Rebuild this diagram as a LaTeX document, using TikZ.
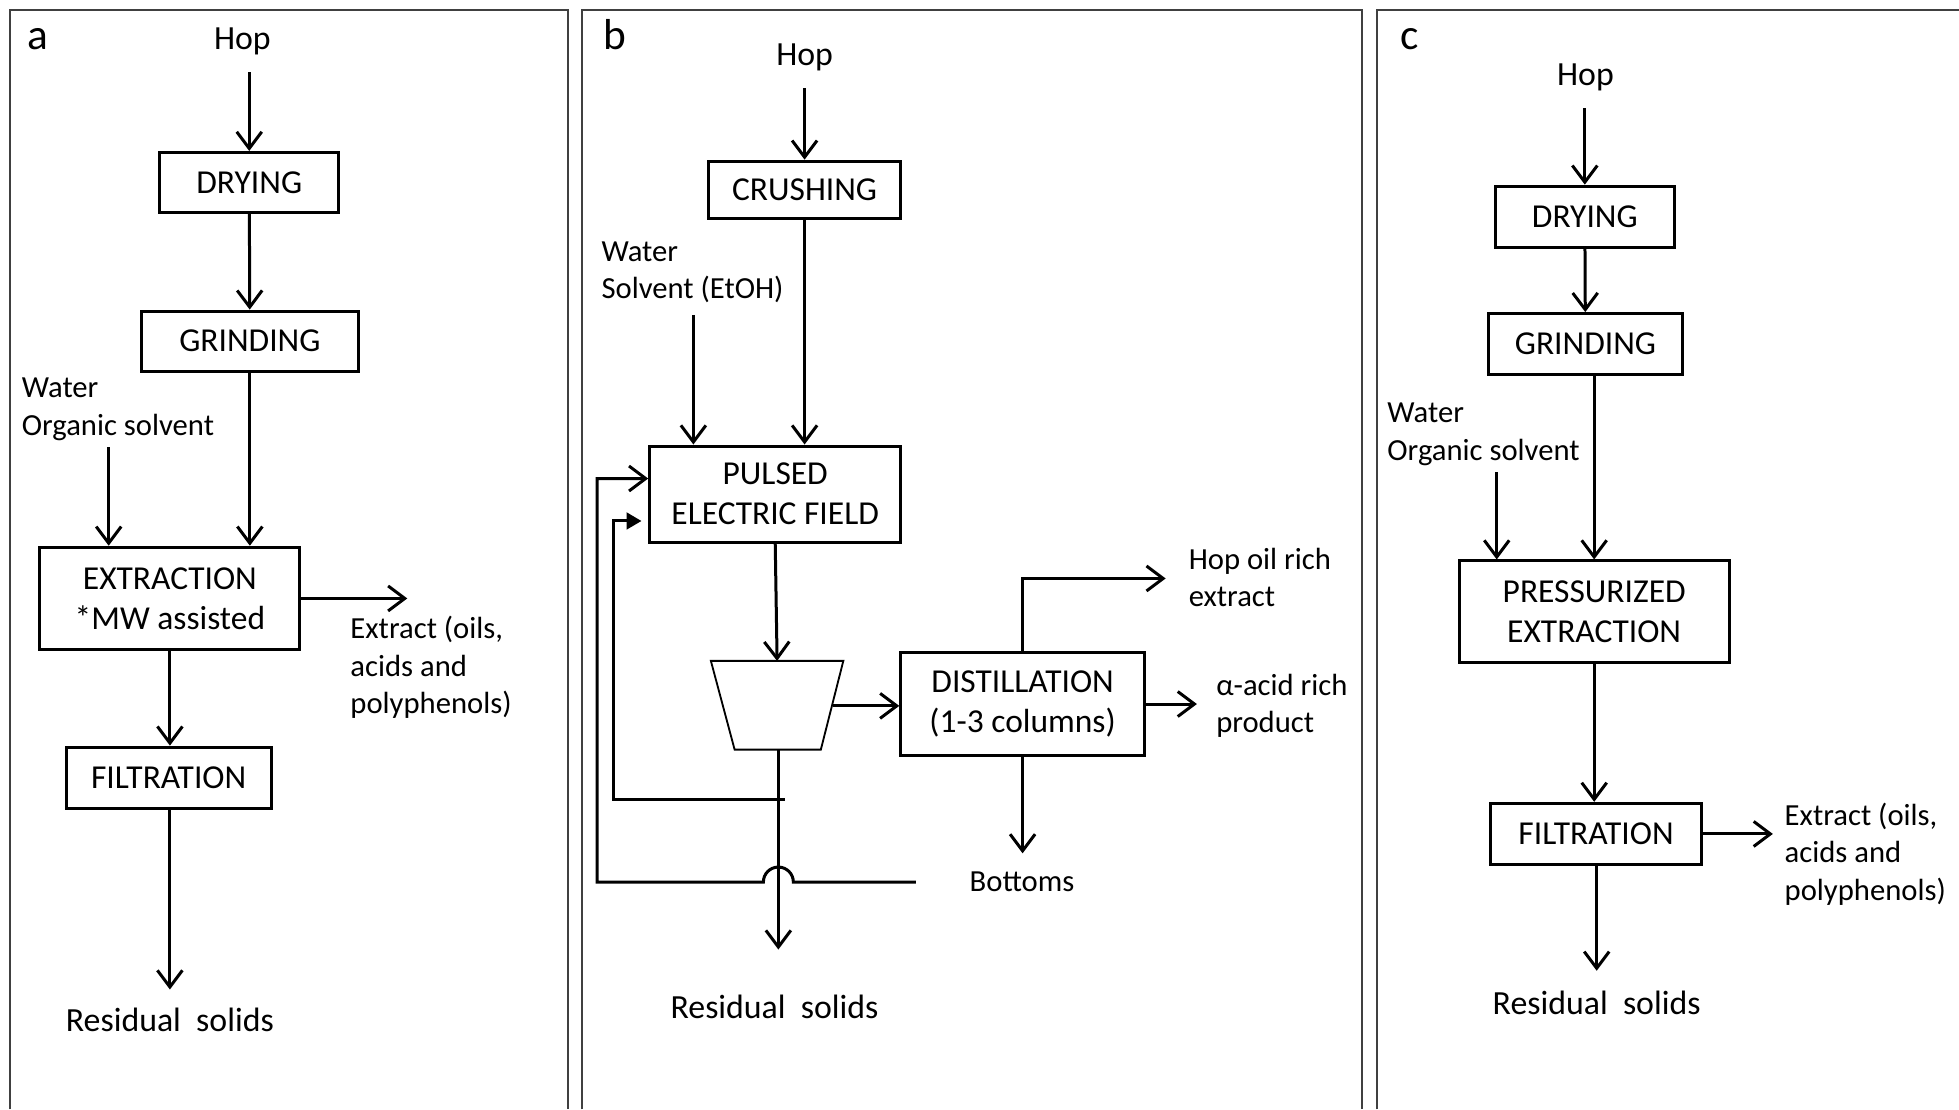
\documentclass[tikz,border=0pt]{standalone}
\usepackage{fontspec}
\setmainfont{Carlito}
\usetikzlibrary{arrows.meta}

\tikzset{every picture/.style={line width=0.75pt}}
\tikzset{
  stage/.style={draw, line width=1.8pt, inner sep=0pt, align=center, font=\fontsize{20.1}{24}\selectfont},
  lbl/.style={inner sep=0pt, align=left, font=\fontsize{18.4}{22.5}\selectfont},
  biglbl/.style={inner sep=0pt, font=\fontsize{20.3}{24}\selectfont},
  panel/.style={inner sep=0pt, anchor=base, font=\fontsize{26}{30}\selectfont},
  flow/.style={line width=1.8pt, -{Straight Barb[length=10pt,width=15pt]}},
  feedflow/.style={line width=1.8pt, -{Triangle[length=9pt,width=10pt]}},
  frame/.style={line width=1.2pt, draw=black!75}
}

\begin{document}
\begin{tikzpicture}[x=0.75pt,y=0.75pt,yscale=-1,xscale=1]
	\path[use as bounding box] (0,0) rectangle (1568,888);

	%Frames
	\draw[frame] (8,888) -- (8,8) -- (455,8) -- (455,888);
	\draw[frame] (466,888) -- (466,8) -- (1090,8) -- (1090,888);
	\draw[frame] (1102,888) -- (1102,8) -- (1568,8);

	%Panel a
	\node[panel] (laba) at (30,40) {a};
	\node[biglbl] (hopa) at (194,33) {Hop};
	\node[stage, minimum width=107.25pt, minimum height=36pt] (drya) at (199.5,146) {DRYING};
	\node[stage, minimum width=130.5pt, minimum height=36pt] (grina) at (200,273) {GRINDING};
	\node[lbl, anchor=north west] (wata) at (17,302) {Water\\Organic solvent};
	\node[stage, minimum width=156pt, minimum height=61.5pt] (exta) at (136,479) {EXTRACTION\\*MW assisted};
	\node[lbl, anchor=north west] (prda) at (280,493) {Extract (oils,\\acids and\\polyphenols)};
	\node[stage, minimum width=123pt, minimum height=36.75pt] (filta) at (135,622.5) {FILTRATION};
	\node[biglbl] (resa) at (136,816) {Residual\ \ solids};
	\coordinate (wsa) at (87,358);
	\coordinate (outa) at (326,479);
	\coordinate (enda) at (136,792);

	\draw[flow, shorten <=10pt] (drya.north |- hopa.south) -- (drya.north);
	\draw[flow] (drya) -- (grina);
	\draw[flow] (grina.south) -- (grina.south |- exta.north);
	\draw[flow] (wsa) -- (wsa |- exta.north);
	\draw[flow] (exta.east) -- (outa);
	\draw[flow] (exta.south) -- (exta.south |- filta.north);
	\draw[flow] (filta.south -| enda) -- (enda);

	%Panel b
	\node[panel] (labb) at (492,40) {b};
	\node[biglbl] (hopb) at (644,46) {Hop};
	\node[stage, minimum width=115.5pt, minimum height=34.5pt] (crub) at (644,152) {CRUSHING};
	\node[lbl, anchor=north west] (watb) at (481,193) {Water\\Solvent (EtOH)};
	\node[stage, minimum width=150.75pt, minimum height=57.75pt] (pefb) at (620.5,395.5) {PULSED\\ELECTRIC FIELD};
	\node[stage, minimum width=146.25pt, minimum height=62.25pt] (dstb) at (818.5,563.5) {DISTILLATION\\(1-3 columns)};
	\node[lbl, anchor=north west] (oiltx) at (951,438) {Hop oil rich\\extract};
	\node[lbl, anchor=north west] (acdtx) at (973,539) {α-acid rich\\product};
	\node[lbl] (botm) at (818,706) {Bottoms};
	\node[biglbl] (resb) at (620,806) {Residual\ \ solids};
	\coordinate (wsb) at (555,252);
	\coordinate (sept) at (622,529);
	\coordinate (sepb) at (623,600);
	\coordinate (sepr) at (666.5,565);
	\coordinate (oilb) at (933,463);
	\coordinate (acdb) at (958,565);
	\coordinate (botb) at (819,683);
	\coordinate (endb) at (623,760);
	\coordinate (rc1) at (628,640);
	\coordinate (rcx1) at (491,417);
	\coordinate (rc2) at (733,706);
	\coordinate (rcx2) at (478,383);

	%Separator
	\draw[line width=1.1pt] (569,529) -- (675,529) -- (657,600) -- (588,600) -- cycle;

	\draw[flow, shorten <=10pt] (crub.north |- hopb.south) -- (crub.north);
	\draw[flow] (crub.south) -- (crub.south |- pefb.north);
	\draw[flow] (wsb) -- (wsb |- pefb.north);
	\draw[flow] (pefb.south) -- (sept);
	\draw[flow] (sepr) -- (sepr -| dstb.west);
	\draw[flow] (dstb.north) |- (oilb);
	\draw[flow] (dstb.east) -- (dstb.east -| acdb);
	\draw[flow] (dstb.south) -- (dstb.south |- botb);
	\draw[flow] (sepb) -- (endb);
	%Recycle lines
	\draw[feedflow, shorten >=4pt] (rc1) -| (rcx1) -- (rcx1 -| pefb.west);
	\draw[flow] (rc2) -- (635,706) arc (0:-180:12) -- (rcx2 |- rc2) -- (rcx2) -- (rcx2 -| pefb.west);

	%Panel c
	\node[panel] (labc) at (1128,40) {c};
	\node[biglbl] (hopc) at (1269,62) {Hop};
	\node[stage, minimum width=107.25pt, minimum height=36.75pt] (dryc) at (1268.5,173.5) {DRYING};
	\node[stage, minimum width=117pt, minimum height=36.75pt] (grinc) at (1269,275.5) {GRINDING};
	\node[lbl, anchor=north west] (watc) at (1110,322) {Water\\Organic solvent};
	\node[stage, minimum width=162pt, minimum height=60.75pt] (extc) at (1276,489.5) {PRESSURIZED\\EXTRACTION};
	\node[stage, minimum width=126.75pt, minimum height=36.75pt] (filtc) at (1277.5,667.5) {FILTRATION};
	\node[lbl, anchor=north west] (prdc) at (1428,642) {Extract (oils,\\acids and\\polyphenols)};
	\node[biglbl] (resc) at (1278,803) {Residual\ \ solids};
	\coordinate (wsc) at (1198,378);
	\coordinate (outc) at (1419,667);
	\coordinate (endc) at (1278,777);

	\draw[flow, shorten <=10pt] (dryc.north |- hopc.south) -- (dryc.north);
	\draw[flow] (dryc) -- (grinc);
	\draw[flow] (grinc.south -| extc) -- (extc.north);
	\draw[flow] (wsc) -- (wsc |- extc.north);
	\draw[flow] (extc.south) -- (extc.south |- filtc.north);
	\draw[flow] (filtc.east) -- (filtc.east -| outc);
	\draw[flow] (filtc.south -| endc) -- (endc);

\end{tikzpicture}
\end{document}
